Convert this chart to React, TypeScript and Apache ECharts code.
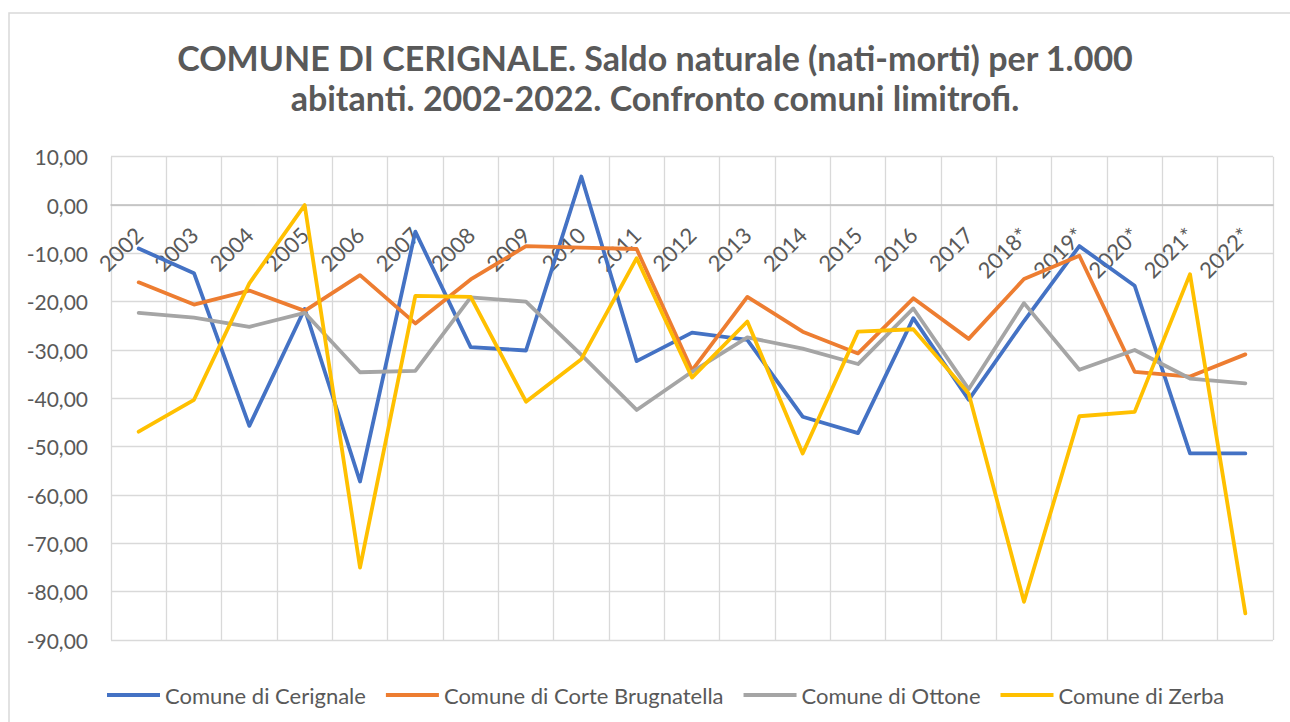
import React, { useEffect, useRef } from "react";
import * as echarts from "echarts";

const years = ["2002","2003","2004","2005","2006","2007","2008","2009","2010","2011","2012","2013","2014","2015","2016","2017","2018*","2019*","2020*","2021*","2022*"];
const cerignale = [-9.0,-14.1,-45.7,-21.5,-57.2,-5.5,-29.4,-30.1,5.9,-32.3,-26.4,-27.9,-43.8,-47.2,-23.4,-40.3,-24.0,-8.5,-16.7,-51.4,-51.4];
const corteBrugnatella = [-16.0,-20.6,-17.7,-21.9,-14.5,-24.5,-15.4,-8.5,-8.8,-9.1,-34.2,-19.0,-26.2,-30.7,-19.3,-27.7,-15.3,-10.5,-34.5,-35.5,-30.9];
const ottone = [-22.3,-23.3,-25.2,-22.3,-34.6,-34.3,-19.1,-20.0,-31.0,-42.4,-34.5,-27.4,-29.7,-32.9,-21.4,-38.1,-20.3,-34.1,-30.0,-35.9,-36.9];
const zerba = [-46.9,-40.3,-16.2,0.0,-75.0,-18.8,-19.0,-40.7,-31.9,-11.0,-35.7,-24.1,-51.4,-26.2,-25.7,-39.0,-82.1,-43.7,-42.8,-14.3,-84.5];
const seriesNames = ["Comune di Cerignale","Comune di Corte Brugnatella","Comune di Ottone","Comune di Zerba"];
const seriesData = [cerignale, corteBrugnatella, ottone, zerba];
const colors = ["#4472C4","#ED7D31","#A5A5A5","#FFC000"];
const titleLines = ["COMUNE DI CERIGNALE. Saldo naturale (nati-morti) per 1.000","abitanti. 2002-2022. Confronto comuni limitrofi."];

export default function App() {
  const ref = useRef<HTMLDivElement>(null);
  useEffect(() => {
    const chart = echarts.init(ref.current!, null, { renderer: "svg" });
    const font = "Lato, 'Open Sans', sans-serif";
    const gridTop = 156.7;
    const gridBottomPx = 640;
    const zeroPx = gridTop + (gridBottomPx - gridTop) * (10 / 100);
    chart.setOption({
      animation: false,
      backgroundColor: "#ffffff",
      textStyle: { fontFamily: font },
      graphic: [
        { type: "rect", z: -10, silent: true, shape: { x: 9, y: 13, width: 1300, height: 800 }, style: { fill: "none", stroke: "#d9d9d9", lineWidth: 1.5 } },
        { type: "text", x: 655, y: 57, style: { text: titleLines[0], fontFamily: font, fontWeight: "bold", fontSize: 34, fill: "#595959", textAlign: "center", textVerticalAlign: "middle" } },
        { type: "text", x: 655, y: 97, style: { text: titleLines[1], fontFamily: font, fontWeight: "bold", fontSize: 34, fill: "#595959", textAlign: "center", textVerticalAlign: "middle" } },
      ],
      legend: {
        left: 102,
        top: 679,
        icon: "rect",
        itemWidth: 53,
        itemHeight: 4,
        itemGap: 20,
        textStyle: { fontFamily: font, fontSize: 22, color: "#595959" },
        data: seriesNames,
      },
      grid: { left: 111, right: 17, top: gridTop, bottom: 722 - gridBottomPx, containLabel: false },
      xAxis: [
        {
          type: "category",
          data: years,
          boundaryGap: true,
          axisLine: { onZero: true, lineStyle: { color: "#bfbfbf", width: 1.5 } },
          axisTick: { show: false },
          axisLabel: { show: false },
          splitLine: { show: true, lineStyle: { color: "#d9d9d9", width: 1.3 } },
        },
        {
          type: "category",
          data: years,
          position: "bottom",
          offset: -(gridBottomPx - zeroPx),
          boundaryGap: true,
          axisLine: { show: false, onZero: false },
          axisTick: { show: false },
          splitLine: { show: false },
          axisLabel: { rotate: 45, margin: 26, fontSize: 22, color: "#595959", fontFamily: font, interval: 0 },
        },
      ],
      yAxis: {
        type: "value",
        min: -90,
        max: 10,
        interval: 10,
        axisLine: { show: false },
        axisTick: { show: false },
        axisLabel: { margin: 23, fontSize: 21, color: "#595959", fontFamily: font, formatter: (v: number) => v.toFixed(2).replace(".", ",") },
        splitLine: { show: true, lineStyle: { color: "#d9d9d9", width: 1.3 } },
      },
      series: seriesNames.map((name, i) => ({
        name,
        type: "line",
        xAxisIndex: 0,
        data: seriesData[i],
        symbol: "none",
        color: colors[i],
        lineStyle: { width: 3.8, color: colors[i], cap: "round", join: "round" },
      })),
    });
    return () => chart.dispose();
  }, []);
  return <div ref={ref} style={{ position: "fixed", left: 0, top: 0, width: 1290, height: 722 }} />;
}
